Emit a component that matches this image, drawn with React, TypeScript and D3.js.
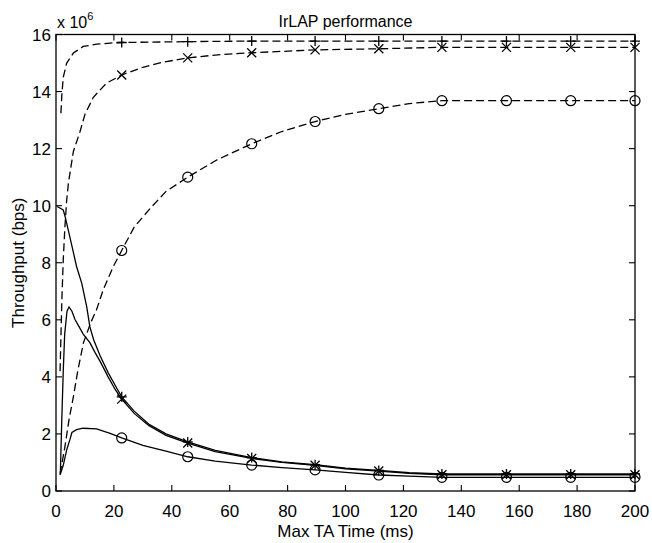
import React from "react";
import * as d3 from "d3";

// ---- data (x in ms, y in bps) ----
const xTicks = [0, 20, 40, 60, 80, 100, 120, 140, 160, 180, 200];
const yTicks = [0, 2e6, 4e6, 6e6, 8e6, 10e6, 12e6, 14e6, 16e6];
const yTickLabels = ["0", "2", "4", "6", "8", "10", "12", "14", "16"];
const markerX = [22.7, 45.5, 67.6, 89.5, 111.5, 133.3, 155.6, 177.8, 200];

const plusDashed: [number, number][] = [
  [1.7, 13.24e6], [2, 13.85e6], [2.5, 14.5e6], [3.7, 15.0e6], [6, 15.35e6], [9.4, 15.58e6],
  [14, 15.66e6], [18.7, 15.7e6], [22.7, 15.72e6], [45.5, 15.75e6], [67.6, 15.77e6],
  [89.5, 15.77e6], [111.5, 15.77e6], [133.3, 15.77e6], [155.6, 15.77e6], [177.8, 15.77e6], [200, 15.77e6],
];
const crossDashed: [number, number][] = [
  [1.4, 4.2e6], [2, 6.6e6], [2.5, 8.1e6], [3.1, 9.3e6], [3.7, 10.2e6], [4.3, 10.8e6], [6, 11.9e6],
  [8.3, 12.6e6], [10, 13.2e6], [12.9, 13.8e6], [17.5, 14.3e6], [22.7, 14.58e6], [30, 14.85e6],
  [37, 15.03e6], [45.5, 15.18e6], [55, 15.28e6], [67.6, 15.36e6], [89.5, 15.46e6], [111.5, 15.5e6],
  [133.3, 15.55e6], [155.6, 15.55e6], [177.8, 15.55e6], [200, 15.55e6],
];
const circleDashed: [number, number][] = [
  [1.4, 0.6e6], [3, 1.5e6], [4.5, 2.5e6], [6, 3.3e6], [7.5, 4.2e6], [9.5, 5.2e6], [12, 5.9e6],
  [14, 6.35e6], [16.3, 7.05e6], [19.8, 7.87e6], [22.7, 8.43e6], [27, 9.25e6], [32.5, 9.9e6],
  [38, 10.5e6], [45.5, 11.0e6], [55.5, 11.6e6], [67.6, 12.17e6], [78, 12.6e6], [89.5, 12.95e6],
  [100, 13.2e6], [111.5, 13.4e6], [122, 13.58e6], [133.3, 13.68e6], [155.6, 13.68e6],
  [177.8, 13.68e6], [200, 13.68e6],
];
const plusSolid: [number, number][] = [
  [0.4, 9.97e6], [2.5, 9.85e6], [3.2, 9.6e6], [4.8, 8.9e6], [7.1, 7.87e6], [8.9, 7.28e6],
  [10.6, 6.46e6], [11.7, 5.75e6], [13, 5.3e6], [15.2, 4.75e6], [18, 4.15e6], [21, 3.6e6],
  [22.7, 3.3e6], [27, 2.8e6], [32, 2.35e6], [38, 2.0e6], [45.5, 1.72e6], [55, 1.42e6],
  [67.6, 1.17e6], [78, 1.02e6], [89.5, 0.92e6], [100, 0.8e6], [111.5, 0.72e6], [122, 0.64e6],
  [133.3, 0.6e6], [155.6, 0.6e6], [177.8, 0.6e6], [200, 0.6e6],
];
const crossSolid: [number, number][] = [
  [1.5, 0.6e6], [2, 2.5e6], [2.5, 4.2e6], [3, 5.5e6], [3.8, 6.3e6], [4.5, 6.45e6], [5.5, 6.3e6],
  [6.6, 6.0e6], [8, 5.75e6], [9.4, 5.5e6], [11.7, 5.2e6], [13.5, 4.85e6], [15.2, 4.55e6],
  [18, 4.0e6], [20.5, 3.55e6], [22.7, 3.22e6], [27, 2.72e6], [32, 2.3e6], [38, 1.95e6],
  [45.5, 1.68e6], [55, 1.38e6], [67.6, 1.14e6], [78, 1.0e6], [89.5, 0.9e6], [100, 0.78e6],
  [111.5, 0.7e6], [122, 0.62e6], [133.3, 0.57e6], [155.6, 0.57e6], [177.8, 0.57e6], [200, 0.57e6],
];
const circleSolid: [number, number][] = [
  [1.4, 0.56e6], [2.5, 0.9e6], [3.7, 1.44e6], [4.8, 1.8e6], [5.5, 2.05e6], [7.1, 2.15e6],
  [9.4, 2.2e6], [14, 2.18e6], [18.7, 2.02e6], [22.7, 1.86e6], [30, 1.6e6], [38, 1.4e6],
  [45.5, 1.2e6], [55, 1.05e6], [67.6, 0.91e6], [78, 0.82e6], [89.5, 0.74e6], [100, 0.65e6],
  [111.5, 0.56e6], [122, 0.52e6], [133.3, 0.48e6], [155.6, 0.48e6], [177.8, 0.48e6], [200, 0.48e6],
];

const seriesList = [
  { data: plusDashed, dashed: true, marker: "plus" },
  { data: crossDashed, dashed: true, marker: "cross" },
  { data: circleDashed, dashed: true, marker: "circle" },
  { data: plusSolid, dashed: false, marker: "plus" },
  { data: crossSolid, dashed: false, marker: "cross" },
  { data: circleSolid, dashed: false, marker: "circle" },
];

const W = 652;
const H = 543;
const L = 56, R = 635, T = 34.5, B = 491;
const FONT = "'Liberation Sans', Arial, Helvetica, sans-serif";

function Marker({ kind, cx, cy }: { kind: string; cx: number; cy: number }) {
  const s = 5;
  if (kind === "circle") return <circle cx={cx} cy={cy} r={5} fill="none" stroke="#000" strokeWidth={1.2} />;
  if (kind === "plus")
    return <path d={`M${cx - s},${cy}H${cx + s}M${cx},${cy - s}V${cy + s}`} stroke="#000" strokeWidth={1.3} fill="none" />;
  const c = 4.5;
  return <path d={`M${cx - c},${cy - c}L${cx + c},${cy + c}M${cx - c},${cy + c}L${cx + c},${cy - c}`} stroke="#000" strokeWidth={1.3} fill="none" />;
}

export default function App() {
  const x = d3.scaleLinear().domain([0, 200]).range([L, R]);
  const y = d3.scaleLinear().domain([0, 16e6]).range([B, T]);
  const line = d3.line<[number, number]>().x((d) => x(d[0])).y((d) => y(d[1]));
  const tl = 6;
  return (
    <svg width={W} height={H} style={{ position: "absolute", left: 0, top: 0, background: "#fff" }} fontFamily={FONT}>
      <rect x={0} y={0} width={W} height={H} fill="#fff" />
      {seriesList.map((s, i) => (
        <path key={i} d={line(s.data) || ""} fill="none" stroke="#000" strokeWidth={1.3}
          strokeDasharray={s.dashed ? "8,4" : undefined} />
      ))}
      {seriesList.map((s, i) =>
        s.data.filter((d) => markerX.includes(d[0])).map((d, j) => (
          <Marker key={`${i}-${j}`} kind={s.marker} cx={x(d[0])} cy={y(d[1])} />
        ))
      )}
      <rect x={L} y={T} width={R - L} height={B - T} fill="none" stroke="#000" strokeWidth={1.3} />
      {xTicks.map((t) => (
        <g key={`x${t}`}>
          <line x1={x(t)} x2={x(t)} y1={B} y2={B - tl} stroke="#000" strokeWidth={1.1} />
          <line x1={x(t)} x2={x(t)} y1={T} y2={T + tl} stroke="#000" strokeWidth={1.1} />
          <text x={x(t)} y={517} textAnchor="middle" fontSize={17}>{t}</text>
        </g>
      ))}
      {yTicks.map((t, i) => (
        <g key={`y${t}`}>
          <line x1={L} x2={L + tl} y1={y(t)} y2={y(t)} stroke="#000" strokeWidth={1.1} />
          <line x1={R} x2={R - tl} y1={y(t)} y2={y(t)} stroke="#000" strokeWidth={1.1} />
          <text x={51} y={y(t) + 6} textAnchor="end" fontSize={17}>{yTickLabels[i]}</text>
        </g>
      ))}
      <text x={57} y={28} fontSize={16}>x 10<tspan dy={-8} fontSize={11}>6</tspan></text>
      <text x={(L + R) / 2} y={27} textAnchor="middle" fontSize={16}>IrLAP performance</text>
      <text x={(L + R) / 2} y={537} textAnchor="middle" fontSize={17}>Max TA Time (ms)</text>
      <text transform={`translate(24,${(T + B) / 2}) rotate(-90)`} textAnchor="middle" fontSize={17}>Throughput (bps)</text>
    </svg>
  );
}
